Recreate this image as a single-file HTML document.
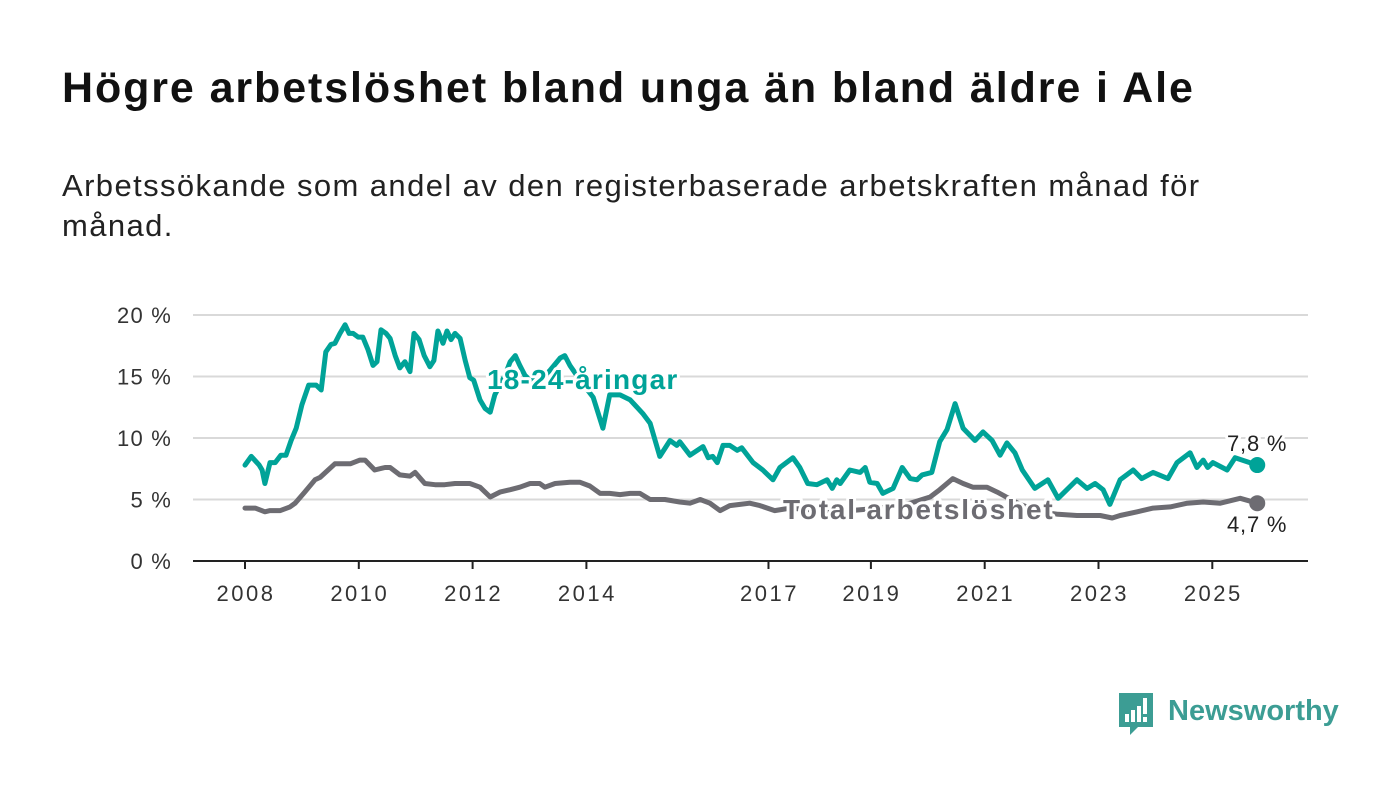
<!DOCTYPE html>
<html><head><meta charset="utf-8"><style>
body{margin:0;background:#fff;font-family:"Liberation Sans",sans-serif;}
#wrap{position:relative;width:1400px;height:794px;overflow:hidden;}
h1{position:absolute;left:62px;top:64px;margin:0;font-size:43px;font-weight:bold;color:#111;letter-spacing:1.9px;white-space:nowrap;}
.sub{position:absolute;left:62px;top:166px;margin:0;font-size:31px;line-height:40px;color:#222;width:1200px;letter-spacing:1.4px;}
svg{position:absolute;left:0;top:0;}
</style></head><body>
<div id="wrap">
<h1>Högre arbetslöshet bland unga än bland äldre i Ale</h1>
<p class="sub">Arbetssökande som andel av den registerbaserade arbetskraften månad för månad.</p>
<svg id="chart" width="1400" height="794"></svg>
</div>
<script>
const yTicks=[0,5,10,15,20];
const yTickLabels=["0 %","5 %","10 %","15 %","20 %"];
const xTicks=[2008,2010,2012,2014,2017.2,2019,2021,2023,2025];
const xTickLabels=["2008","2010","2012","2014","2017","2019","2021","2023","2025"];
const youthDates=[2008.00,2008.11,2008.25,2008.30,2008.35,2008.44,2008.53,2008.63,2008.72,2008.81,2008.90,2009.00,2009.12,2009.25,2009.34,2009.42,2009.51,2009.58,2009.67,2009.76,2009.83,2009.90,2009.99,2010.07,2010.16,2010.25,2010.32,2010.39,2010.48,2010.55,2010.64,2010.72,2010.81,2010.90,2010.97,2011.06,2011.15,2011.25,2011.32,2011.39,2011.48,2011.55,2011.62,2011.69,2011.78,2011.87,2011.95,2012.02,2012.13,2012.22,2012.31,2012.39,2012.48,2012.57,2012.66,2012.75,2012.83,2012.92,2013.01,2013.18,2013.36,2013.54,2013.62,2013.71,2013.89,2014.12,2014.29,2014.41,2014.59,2014.77,2014.99,2015.12,2015.29,2015.47,2015.59,2015.64,2015.82,2016.05,2016.14,2016.22,2016.30,2016.40,2016.52,2016.65,2016.73,2016.93,2017.10,2017.28,2017.40,2017.63,2017.75,2017.89,2018.05,2018.23,2018.32,2018.40,2018.46,2018.63,2018.81,2018.90,2018.98,2019.11,2019.21,2019.39,2019.55,2019.69,2019.81,2019.90,2020.07,2020.21,2020.34,2020.48,2020.62,2020.83,2020.97,2021.13,2021.27,2021.39,2021.53,2021.66,2021.88,2022.11,2022.29,2022.62,2022.80,2022.94,2023.08,2023.20,2023.38,2023.61,2023.76,2023.96,2024.22,2024.38,2024.61,2024.73,2024.84,2024.92,2025.01,2025.26,2025.40,2025.79];
const youthValues=[7.8,8.5,7.8,7.4,6.3,8.0,8.0,8.6,8.6,9.8,10.8,12.7,14.3,14.3,13.9,17.0,17.6,17.7,18.5,19.2,18.5,18.5,18.2,18.2,17.2,15.9,16.2,18.8,18.5,18.1,16.7,15.7,16.2,15.4,18.5,18.0,16.7,15.8,16.3,18.7,17.7,18.7,18.0,18.5,18.1,16.3,14.9,14.7,13.1,12.4,12.1,13.5,14.3,15.1,16.2,16.7,15.9,15.1,14.7,14.7,15.5,16.5,16.7,15.9,14.7,13.3,10.8,13.5,13.5,13.1,12.0,11.2,8.5,9.8,9.4,9.7,8.6,9.3,8.4,8.5,8.0,9.4,9.4,9.0,9.2,8.0,7.4,6.6,7.6,8.4,7.6,6.3,6.2,6.6,5.9,6.6,6.3,7.4,7.2,7.6,6.4,6.3,5.5,5.9,7.6,6.7,6.6,7.0,7.2,9.7,10.7,12.8,10.8,9.8,10.5,9.8,8.6,9.6,8.8,7.4,5.9,6.6,5.1,6.6,5.9,6.3,5.8,4.6,6.6,7.4,6.7,7.2,6.7,8.0,8.8,7.6,8.2,7.6,8.0,7.4,8.4,7.8];
const totalDates=[2008.00,2008.18,2008.35,2008.44,2008.62,2008.79,2008.88,2009.05,2009.23,2009.32,2009.58,2009.85,2010.02,2010.11,2010.28,2010.46,2010.55,2010.72,2010.90,2010.99,2011.16,2011.34,2011.51,2011.69,2011.95,2012.13,2012.31,2012.48,2012.66,2012.83,2013.01,2013.18,2013.27,2013.45,2013.71,2013.89,2014.06,2014.24,2014.41,2014.59,2014.77,2014.94,2015.12,2015.38,2015.64,2015.82,2016.00,2016.17,2016.35,2016.52,2016.70,2016.87,2017.05,2017.31,2017.58,2018.11,2018.63,2019.16,2019.69,2020.04,2020.21,2020.44,2020.62,2020.79,2021.04,2021.22,2021.62,2021.97,2022.29,2022.62,2022.80,2023.03,2023.24,2023.38,2023.68,2023.96,2024.26,2024.56,2024.84,2025.14,2025.49,2025.79];
const totalValues=[4.3,4.3,4.0,4.1,4.1,4.4,4.7,5.6,6.6,6.8,7.9,7.9,8.2,8.2,7.4,7.6,7.6,7.0,6.9,7.2,6.3,6.2,6.2,6.3,6.3,6.0,5.2,5.6,5.8,6.0,6.3,6.3,6.0,6.3,6.4,6.4,6.1,5.5,5.5,5.4,5.5,5.5,5.0,5.0,4.8,4.7,5.0,4.7,4.1,4.5,4.6,4.7,4.5,4.1,4.3,4.1,4.1,4.3,4.7,5.2,5.8,6.7,6.3,6.0,6.0,5.6,4.6,4.0,3.8,3.7,3.7,3.7,3.5,3.7,4.0,4.3,4.4,4.7,4.8,4.7,5.1,4.7];
const youthLabel="18-24-åringar", totalLabel="Total arbetslöshet";

const NS="http://www.w3.org/2000/svg";
const svg=document.getElementById('chart');
const xS=y=>245+(y-2008)*56.9;
const yS=v=>561-v*12.3;
function mk(t,a,p){const e=document.createElementNS(NS,t);for(const k in a)e.setAttribute(k,a[k]);(p||svg).appendChild(e);return e;}
yTicks.forEach((t,i)=>{
  if(t>0){const g=mk('line',{x1:193,x2:1308,y1:yS(t),y2:yS(t),stroke:'#d9d9d9','stroke-width':2});
  
  }
  const l=mk('text',{x:172,y:yS(t)+8,'text-anchor':'end','font-size':22,'letter-spacing':1.2,fill:'#333'});l.textContent=yTickLabels[i];
  
  
});
const ax=mk('line',{x1:193,x2:1308,y1:561,y2:561,stroke:'#222','stroke-width':2});


xTicks.forEach((t,i)=>{
  const tk=mk('line',{x1:xS(t),x2:xS(t),y1:561,y2:569,stroke:'#222','stroke-width':2});
  
  
  const l=mk('text',{x:xS(t)+1,y:601,'text-anchor':'middle','font-size':22,'letter-spacing':2.5,fill:'#333'});l.textContent=xTickLabels[i];
  
  
});
function line(d,v,c,name){
  const p=mk('path',{d:d.map((x,i)=>(i?'L':'M')+xS(x).toFixed(1)+','+yS(v[i]).toFixed(1)).join(''),fill:'none',stroke:c,'stroke-width':5,'stroke-linejoin':'round','stroke-linecap':'round'});
  
  
  const n=d.length-1;
  const c2=mk('circle',{cx:xS(d[n]),cy:yS(v[n]),r:8,fill:c});
  
  
}
line(totalDates,totalValues,'#6d6c72','total-line');
line(youthDates,youthValues,'#00a398','youth-line');
function lab(x,y,t,c,size,w,ls,name){
  const e=mk('text',{x:x,y:y,'font-size':size,'font-weight':w,'letter-spacing':ls,fill:c,stroke:'#fff','stroke-width':6,'paint-order':'stroke','stroke-linejoin':'round'});e.textContent=t;
  
  
}
lab(487,389,youthLabel,'#00a398',28,'bold',1.2,'youth-series-label');
lab(783,519,totalLabel,'#6d6c72',28,'bold',1.8,'total-series-label');
const ny=youthValues.length-1, nt=totalValues.length-1;
lab(1227,yS(youthValues[ny])-14,youthValues[ny].toFixed(1).replace('.',',')+' %','#222',22,'normal',0.8,'youth-end-value');
lab(1227,yS(totalValues[nt])+29,totalValues[nt].toFixed(1).replace('.',',')+' %','#222',22,'normal',0.8,'total-end-value');
</script>
<svg width="230" height="50" style="left:1116px;top:690px">
<path d="M3 3h34v34H22l-8 8v-8H3z" fill="#3c9d94"/>
<rect x="9" y="24" width="4" height="8" fill="#fff"/><rect x="15" y="20" width="4" height="12" fill="#fff"/><rect x="21" y="16" width="4" height="16" fill="#fff"/><rect x="27" y="8" width="4" height="16" fill="#fff"/><rect x="27" y="27" width="4" height="5" fill="#fff"/>
<text x="52" y="30" font-size="29" font-weight="bold" fill="#3c9d94" font-family="Liberation Sans, sans-serif">Newsworthy</text>
</svg>
</body></html>
